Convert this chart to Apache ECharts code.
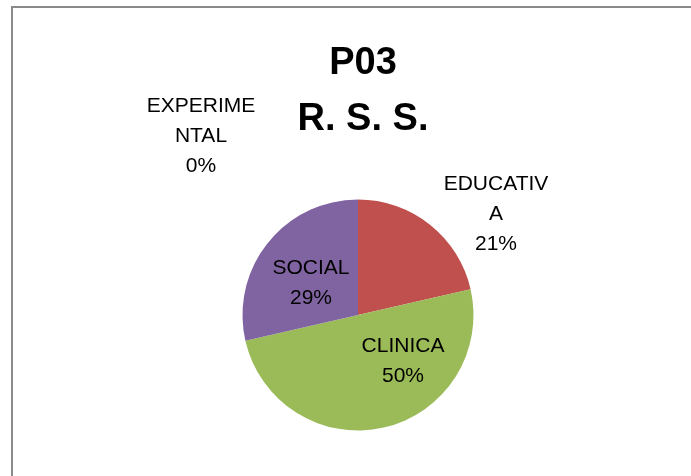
<!DOCTYPE html>
<html>
<head>
<meta charset="utf-8">
<script src="https://cdn.jsdelivr.net/npm/echarts@6/dist/echarts.min.js"></script>
<style>
  html, body { margin: 0; padding: 0; background: #fff; }
  #chart { width: 691px; height: 476px; }
</style>
</head>
<body>
<div id="chart"></div>
<script>
const categories = ['EXPERIMENTAL', 'EDUCATIVA', 'CLINICA', 'SOCIAL']
const counts = [0, 3, 7, 4]
const sliceColors = ['#4F81BD', '#C0504D', '#9BBB59', '#8064A2']
const titleLines = ['P03', 'R. S. S.']

// where Excel put each data label (centre of the text block)
const labelSpots = [
  [201, 136],
  [496, 214],
  [403, 361],
  [311, 283],
]

const chart = echarts.init(document.getElementById('chart'))

function wrapName(name) {
  // excel wrapped the long names after 8 characters
  return name.length > 8 ? name.slice(0, 8) + '\n' + name.slice(8) : name
}

chart.setOption({
  animation: false,
  title: {
    text: titleLines.join('\n'),
    left: 358,
    top: 31,
    textAlign: 'center',
    textStyle: {
      fontFamily: 'Liberation Sans',
      fontWeight: 'bold',
      fontSize: 38,
      lineHeight: 56,
      color: '#000',
    },
  },
  graphic: [
    {
      // chart-area frame, only its left and top edges are in the shot
      type: 'polyline',
      shape: { points: [[12, 480], [12, 7], [700, 7]] },
      style: { fill: 'none', stroke: '#8a8a8a', lineWidth: 2 },
      silent: true,
    },
  ],
  series: [
    {
      type: 'pie',
      center: [358, 315],
      radius: 115.5,
      startAngle: 90,
      clockwise: true,
      avoidLabelOverlap: false,
      minShowLabelAngle: 0,
      data: categories.map((name, i) => ({
        name,
        value: counts[i],
        itemStyle: { color: sliceColors[i] },
      })),
      itemStyle: { borderWidth: 0 },
      label: {
        show: true,
        position: 'outside',
        formatter: (p) => wrapName(p.name) + '\n' + Math.round(p.percent) + '%',
        fontFamily: 'Liberation Sans',
        fontSize: 21,
        lineHeight: 30,
        color: '#000',
        align: 'center',
      },
      labelLine: { show: false },
      labelLayout: (params) => {
        const spot = labelSpots[params.dataIndex]
        return { x: spot[0], y: spot[1], align: 'center', verticalAlign: 'middle' }
      },
      emphasis: { disabled: true },
    },
  ],
})
</script>
</body>
</html>
